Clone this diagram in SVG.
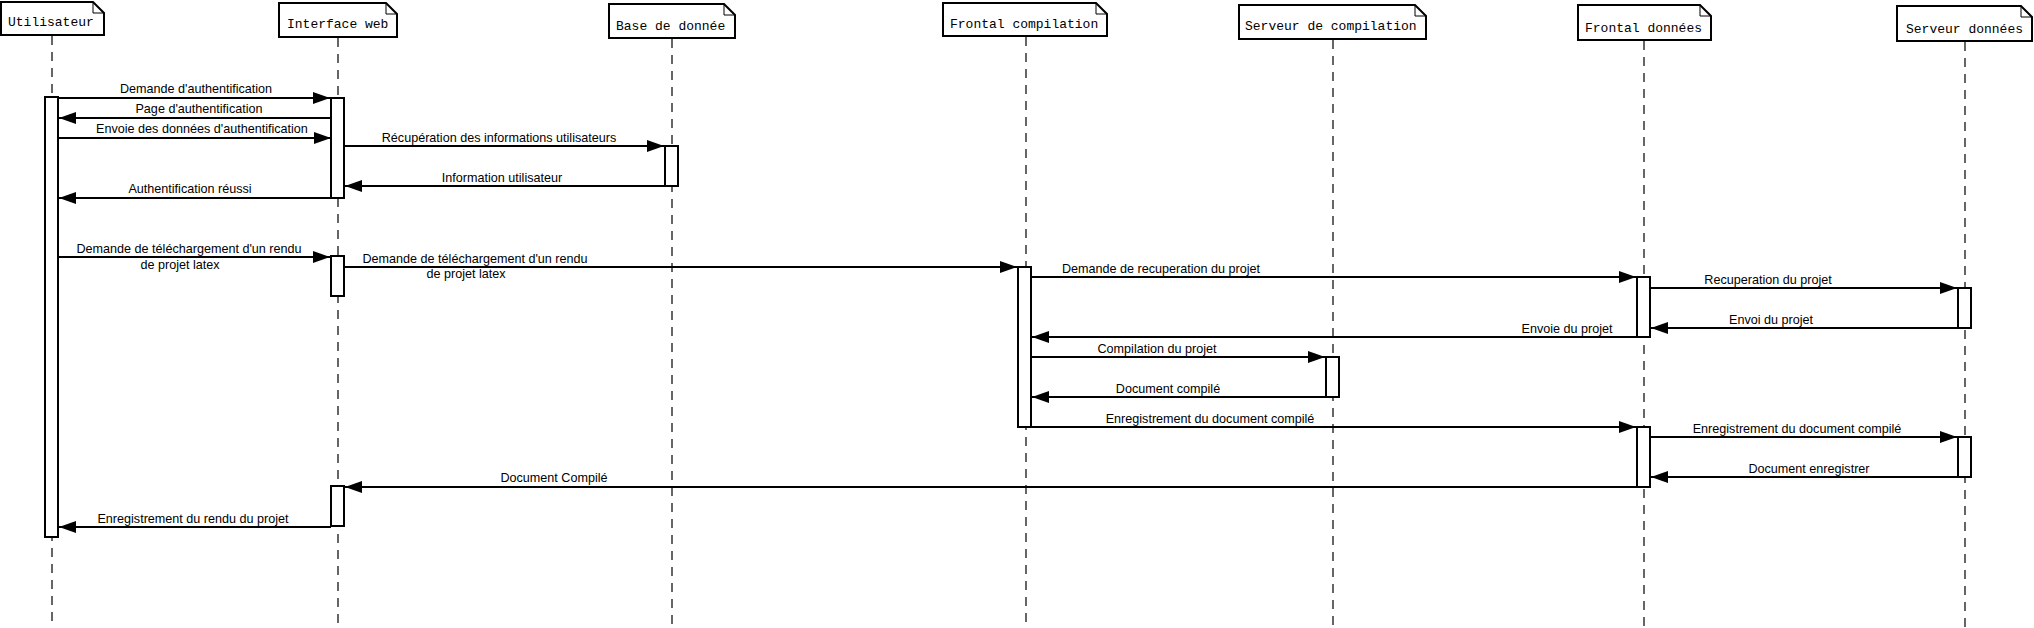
<svg xmlns="http://www.w3.org/2000/svg" width="2034" height="628" viewBox="0 0 2034 628">
<style>
.box{fill:#fff;stroke:#000;stroke-width:2}
.fold{fill:none;stroke:#000;stroke-width:1}
.ttl{font-family:"Liberation Mono","Courier New",monospace;font-size:13px;fill:#000}
.life{stroke:#000;stroke-width:1.2;stroke-dasharray:9 7;fill:none}
.act{fill:#fff;stroke:#000;stroke-width:2}
.msg{stroke:#000;stroke-width:2;fill:none;marker-end:url(#ah)}
.lbl{font-family:"Liberation Sans",Arial,sans-serif;font-size:12.6px;fill:#000;text-anchor:middle}
</style>
<defs>
<marker id="ah" markerUnits="userSpaceOnUse" markerWidth="17" markerHeight="12" viewBox="0 0 17 12" refX="17" refY="6" orient="auto">
<path d="M0,0 L17,6 L0,12 z" fill="#000"/>
</marker>
</defs>
<rect width="2034" height="628" fill="#fff"/>

<g id="lifelines">
<line class="life" x1="52" y1="36" x2="52" y2="628"/>
<line class="life" x1="338" y1="38" x2="338" y2="628"/>
<line class="life" x1="672" y1="39" x2="672" y2="628"/>
<line class="life" x1="1026" y1="37" x2="1026" y2="628"/>
<line class="life" x1="1333" y1="40" x2="1333" y2="628"/>
<line class="life" x1="1644" y1="41" x2="1644" y2="628"/>
<line class="life" x1="1965" y1="42" x2="1965" y2="628"/>
</g>

<g id="utilisateur">
<path class="box" d="M1,2 H93 L104,13 V35 H1 Z"/>
<path class="fold" d="M93,2 V13 H104"/>
<text class="ttl" x="8" y="26">Utilisateur</text>
</g>
<g id="interface-web">
<path class="box" d="M279,3 H386 L397,14 V37 H279 Z"/>
<path class="fold" d="M386,3 V14 H397"/>
<text class="ttl" x="287" y="28">Interface web</text>
</g>
<g id="base-de-donnee">
<path class="box" d="M609,4 H724 L735,15 V38 H609 Z"/>
<path class="fold" d="M724,4 V15 H735"/>
<text class="ttl" x="616" y="30">Base de donnée</text>
</g>
<g id="frontal-compilation">
<path class="box" d="M943,3 H1096 L1107,14 V36 H943 Z"/>
<path class="fold" d="M1096,3 V14 H1107"/>
<text class="ttl" x="950" y="28">Frontal compilation</text>
</g>
<g id="serveur-de-compilation">
<path class="box" d="M1239,5 H1415 L1426,16 V39 H1239 Z"/>
<path class="fold" d="M1415,5 V16 H1426"/>
<text class="ttl" x="1245" y="30">Serveur de compilation</text>
</g>
<g id="frontal-donnees">
<path class="box" d="M1578,5 H1700 L1711,16 V40 H1578 Z"/>
<path class="fold" d="M1700,5 V16 H1711"/>
<text class="ttl" x="1585" y="32">Frontal données</text>
</g>
<g id="serveur-donnees">
<path class="box" d="M1897,6 H2021 L2032,17 V41 H1897 Z"/>
<path class="fold" d="M2021,6 V17 H2032"/>
<text class="ttl" x="1906" y="33">Serveur données</text>
</g>

<g id="activations">
<rect class="act" x="45" y="97" width="13" height="440"/>
<rect class="act" x="331" y="98" width="13" height="100"/>
<rect class="act" x="665" y="146" width="13" height="40"/>
<rect class="act" x="331" y="256" width="13" height="40"/>
<rect class="act" x="1018" y="267" width="13" height="160"/>
<rect class="act" x="1637" y="277" width="13" height="60"/>
<rect class="act" x="1958" y="288" width="13" height="40"/>
<rect class="act" x="1326" y="357" width="13" height="40"/>
<rect class="act" x="1637" y="427" width="13" height="60"/>
<rect class="act" x="1958" y="437" width="13" height="40"/>
<rect class="act" x="331" y="486" width="13" height="40"/>
</g>

<g id="connectors">
<line class="msg" x1="58" y1="98" x2="330" y2="98"/>
<line class="msg" x1="331" y1="118" x2="59" y2="118"/>
<line class="msg" x1="58" y1="138" x2="331" y2="138"/>
<line class="msg" x1="344" y1="146" x2="664" y2="146"/>
<line class="msg" x1="665" y1="186" x2="345" y2="186"/>
<line class="msg" x1="331" y1="198" x2="59" y2="198"/>
<line class="msg" x1="58" y1="257" x2="330" y2="257"/>
<line class="msg" x1="344" y1="267" x2="1017" y2="267"/>
<line class="msg" x1="1031" y1="277" x2="1636" y2="277"/>
<line class="msg" x1="1650" y1="288" x2="1957" y2="288"/>
<line class="msg" x1="1958" y1="328" x2="1651" y2="328"/>
<line class="msg" x1="1637" y1="337" x2="1032" y2="337"/>
<line class="msg" x1="1031" y1="357" x2="1325" y2="357"/>
<line class="msg" x1="1326" y1="397" x2="1032" y2="397"/>
<line class="msg" x1="1031" y1="427" x2="1636" y2="427"/>
<line class="msg" x1="1650" y1="437" x2="1957" y2="437"/>
<line class="msg" x1="1958" y1="477" x2="1651" y2="477"/>
<line class="msg" x1="1637" y1="487" x2="345" y2="487"/>
<line class="msg" x1="331" y1="527" x2="59" y2="527"/>
</g>

<g id="labels">
<text class="lbl" x="196" y="93">Demande d'authentification</text>
<text class="lbl" x="199" y="113">Page d'authentification</text>
<text class="lbl" x="202" y="133">Envoie des données d'authentification</text>
<text class="lbl" x="499" y="142">Récupération des informations utilisateurs</text>
<text class="lbl" x="502" y="182">Information utilisateur</text>
<text class="lbl" x="190" y="193">Authentification réussi</text>
<text class="lbl" x="189" y="253">Demande de téléchargement d'un rendu</text>
<text class="lbl" x="180" y="269">de projet latex</text>
<text class="lbl" x="475" y="263">Demande de téléchargement d'un rendu</text>
<text class="lbl" x="466" y="278">de projet latex</text>
<text class="lbl" x="1161" y="273">Demande de recuperation du projet</text>
<text class="lbl" x="1768" y="284">Recuperation du projet</text>
<text class="lbl" x="1771" y="324">Envoi du projet</text>
<text class="lbl" x="1567" y="333">Envoie du projet</text>
<text class="lbl" x="1157" y="353">Compilation du projet</text>
<text class="lbl" x="1168" y="393">Document compilé</text>
<text class="lbl" x="1210" y="423">Enregistrement du document compilé</text>
<text class="lbl" x="1797" y="433">Enregistrement du document compilé</text>
<text class="lbl" x="1809" y="473">Document enregistrer</text>
<text class="lbl" x="554" y="482">Document Compilé</text>
<text class="lbl" x="193" y="523">Enregistrement du rendu du projet</text>
</g>
</svg>
